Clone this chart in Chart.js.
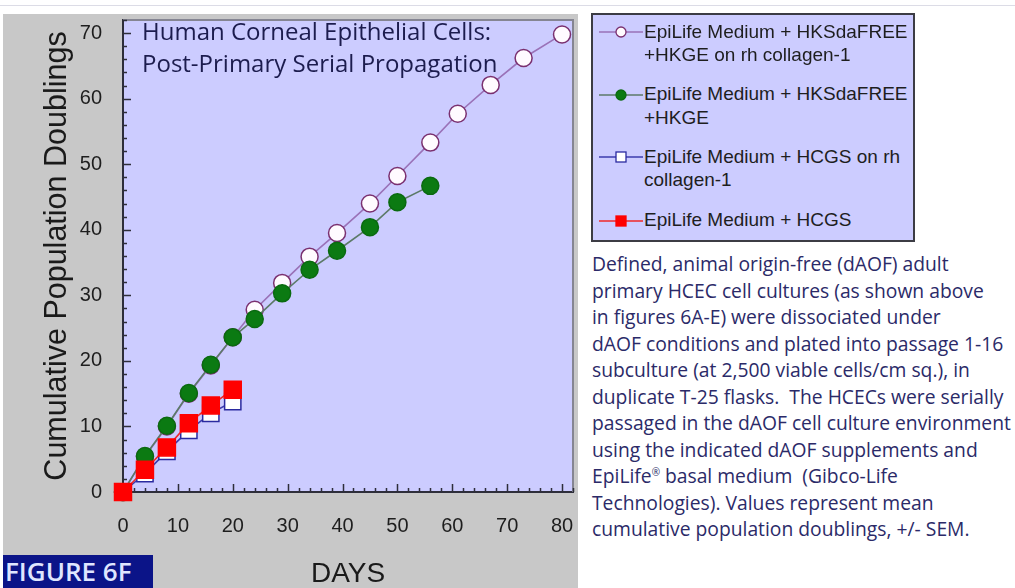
<!DOCTYPE html>
<html>
<head>
<meta charset="UTF-8">
<title>Human Corneal Epithelial Cells: Post-Primary Serial Propagation</title>
<script src="https://cdn.jsdelivr.net/npm/chart.js@4"></script>
<style>
  body {
    margin: 0;
    width: 1015px;
    height: 588px;
    position: relative;
    overflow: hidden;
    background: #ffffff;
    font-family: 'Liberation Sans', Arial, sans-serif;
  }
  .topline { position: absolute; left: 0; top: 5px; width: 1015px; height: 1px; background: #dcdce6; }
  .panel { position: absolute; left: 3px; top: 14px; width: 575px; height: 574px; background: #c8c8c8; }
  .plot-title {
    position: absolute; left: 142px; top: 15px;
    font-family: 'Open Sans', sans-serif; font-size: 24px; line-height: 32px;
    color: #1c1c4e; white-space: pre;
  }
  .figure-tag {
    position: absolute; left: 3px; top: 555px; width: 150px; height: 33px;
    background: #0b1488; color: #dfe6ff;
    font-family: 'Open Sans', sans-serif; font-size: 26px; font-weight: 600; line-height: 33px;
    padding-left: 2px; box-sizing: border-box; overflow: hidden;
  }
  .legend-box {
    position: absolute; left: 591px; top: 13px; width: 324px; height: 229px;
    background: #ccccff; border: 2px solid #3c3c44; box-sizing: border-box;
  }
  .legend-text {
    position: absolute; left: 644px;
    font-size: 19px; line-height: 23.3px; color: #1e1e1e; white-space: pre;
  }
  .legend-sym { position: absolute; left: 599px; width: 44px; height: 16px; }
  .caption {
    position: absolute; left: 592px; top: 251px;
    font-family: 'Open Sans', sans-serif; font-size: 19.3px; line-height: 26.5px;
    color: #2b2a68; white-space: pre;
  }
  .caption sup { font-size: 10px; line-height: 0; }
</style>
</head>
<body>
<div class="topline"></div>
<div class="panel"><canvas id="chart"></canvas></div>
<div class="plot-title">Human Corneal Epithelial Cells:
Post-Primary Serial Propagation</div>
<div class="figure-tag">FIGURE 6F</div>
<div class="legend-box"></div>
<div id="legend"></div>
<div class="caption">Defined, animal origin-free (dAOF) adult
primary HCEC cell cultures (as shown above
in figures 6A-E) were dissociated under
dAOF conditions and plated into passage 1-16
subculture (at 2,500 viable cells/cm sq.), in
duplicate T-25 flasks.  The HCECs were serially
passaged in the dAOF cell culture environment
using the indicated dAOF supplements and
EpiLife<sup>®</sup> basal medium  (Gibco-Life
Technologies). Values represent mean
cumulative population doublings, +/- SEM.</div>

<script>
// days in culture for each series
const hksCollagenDays = [0, 4, 8, 12, 16, 20, 24, 29, 34, 39, 45, 50, 56, 61, 67, 73, 80];
const hksDays = [0, 4, 8, 12, 16, 20, 24, 29, 34, 39, 45, 50, 56];
const hcgsDays = [0, 4, 8, 12, 16, 20];

// cumulative population doublings
const hksCollagen = [0, 5.4, 10.0, 15.0, 19.3, 23.6, 27.8, 31.9, 35.9, 39.5, 44.0, 48.2, 53.3, 57.7, 62.1, 66.2, 69.8];
const hks = [0, 5.5, 10.1, 15.1, 19.4, 23.6, 26.4, 30.3, 33.9, 36.8, 40.4, 44.2, 46.7];
const hcgsCollagen = [0, 2.8, 6.2, 9.4, 12.0, 13.8];
const hcgs = [0, 3.4, 6.8, 10.5, 13.2, 15.6];

const xTicks = [0, 10, 20, 30, 40, 50, 60, 70, 80];
const yTicks = [0, 10, 20, 30, 40, 50, 60, 70];

const seriesLabels = [
  ['EpiLife Medium + HKSdaFREE', '+HKGE on rh collagen-1'],
  ['EpiLife Medium + HKSdaFREE', '+HKGE'],
  ['EpiLife Medium + HCGS on rh', 'collagen-1'],
  ['EpiLife Medium + HCGS']
];

const styles = [
  { line: '#9a72b8', fill: '#fffbff', edge: '#7a3070', shape: 'circle', r: 8.5 },
  { line: '#5c7a68', fill: '#0b7a12', edge: '#0a6a10', shape: 'circle', r: 8.5 },
  { line: '#3c3cae', fill: '#ffffff', edge: '#2a2aa0', shape: 'rect', r: 11.5 },
  { line: '#f02828', fill: '#ff0000', edge: '#ff0000', shape: 'rect', r: 12 }
];

const seriesData = [
  hksCollagenDays.map((d, i) => ({ x: d, y: hksCollagen[i] })),
  hksDays.map((d, i) => ({ x: d, y: hks[i] })),
  hcgsDays.map((d, i) => ({ x: d, y: hcgsCollagen[i] })),
  hcgsDays.map((d, i) => ({ x: d, y: hcgs[i] }))
];
// lower order is drawn on top
const drawOrder = [3, 1, 2, 0];

const datasets = seriesData.map((data, i) => ({
  label: seriesLabels[i].join(' '),
  data: data,
  order: drawOrder[i],
  borderColor: styles[i].line,
  borderWidth: 1.6,
  pointStyle: styles[i].shape,
  pointRadius: styles[i].r,
  pointHoverRadius: styles[i].r,
  pointBackgroundColor: styles[i].fill,
  pointBorderColor: styles[i].edge,
  pointBorderWidth: 1.5,
  tension: 0,
  clip: false
}));

// lavender plot area, grey top/right frame and inward tick marks
const plotFrame = {
  id: 'plotFrame',
  beforeDraw(chart) {
    const { ctx, chartArea: a } = chart;
    ctx.save();
    ctx.fillStyle = '#ccccff';
    ctx.fillRect(a.left, a.top, a.right - a.left, a.bottom - a.top);
    ctx.restore();
  },
  beforeDatasetsDraw(chart) {
    const { ctx, chartArea: a, scales: { x, y } } = chart;
    ctx.save();
    ctx.strokeStyle = '#858592';
    ctx.lineWidth = 2;
    ctx.beginPath();
    ctx.moveTo(a.left, a.top);
    ctx.lineTo(a.right, a.top);
    ctx.lineTo(a.right, a.bottom);
    ctx.stroke();

    ctx.strokeStyle = '#2e2e3a';
    ctx.lineWidth = 1.5;
    ctx.beginPath();
    for (let v = 2; v <= x.max; v += 2) {
      const px = Math.round(x.getPixelForValue(v)) + 0.5;
      const len = v % 10 === 0 ? 8 : 4;
      ctx.moveTo(px, a.bottom);
      ctx.lineTo(px, a.bottom - len);
    }
    for (let v = 2; v <= y.max; v += 2) {
      const py = Math.round(y.getPixelForValue(v)) + 0.5;
      const len = v % 10 === 0 ? 8 : 4;
      ctx.moveTo(a.left, py);
      ctx.lineTo(a.left + len, py);
    }
    ctx.stroke();
    ctx.restore();
  }
};

// fixed axis sizes; drop the label overflow padding chart.js adds
const fixSize = (w, h) => s => {
  if (w !== null) s.width = w;
  if (h !== null) s.height = h;
  s.paddingTop = s.paddingBottom = s.paddingLeft = s.paddingRight = 0;
};

const tickFont = { family: "'Liberation Sans', Arial, sans-serif", size: 20 };

new Chart(document.getElementById('chart'), {
  type: 'line',
  data: { datasets: datasets },
  options: {
    responsive: true,
    maintainAspectRatio: false,
    animation: false,
    layout: { autoPadding: false, padding: { top: 6, right: 5, left: 0, bottom: 0 } },
    plugins: { legend: { display: false }, tooltip: { enabled: false } },
    scales: {
      x: {
        type: 'linear',
        min: 0,
        max: 82,
        afterBuildTicks: s => { s.ticks = xTicks.map(v => ({ value: v })); },
        afterFit: fixSize(null, 96),
        grid: { display: false, drawTicks: false },
        border: { display: true, color: '#2e2e3a', width: 2 },
        ticks: { font: tickFont, color: '#1e1e1e', padding: 22, maxRotation: 0 },
        title: {
          display: true, text: 'DAYS', color: '#1a1a1a',
          font: { family: "'Liberation Sans', Arial, sans-serif", size: 28, lineHeight: 1 },
          padding: { top: 0, bottom: 0 }
        }
      },
      y: {
        type: 'linear',
        min: 0,
        max: 72,
        afterBuildTicks: s => { s.ticks = yTicks.map(v => ({ value: v })); },
        afterFit: fixSize(120, null),
        grid: { display: false, drawTicks: false },
        border: { display: true, color: '#2e2e3a', width: 2 },
        ticks: { font: tickFont, color: '#1e1e1e', padding: 21 },
        title: {
          display: true, text: 'Cumulative Population Doublings', color: '#1a1a1a',
          font: { family: "'Liberation Sans', Arial, sans-serif", size: 30.5, lineHeight: 1 },
          padding: { top: 39, bottom: 0 }
        }
      }
    }
  },
  plugins: [plotFrame]
});

// legend built from the same series styles
const legendBaselines = [38.3, 100.7, 163.3, 226.7];
const legendEl = document.getElementById('legend');
seriesLabels.forEach((lines, i) => {
  const st = styles[i];
  const base = legendBaselines[i];
  const sym = st.shape === 'circle'
    ? `<circle cx="22" cy="8" r="5" fill="${st.fill}" stroke="${st.edge}" stroke-width="1.3"/>`
    : `<rect x="17" y="3" width="10" height="10" fill="${st.fill}" stroke="${st.edge}" stroke-width="1.3"/>`;
  legendEl.insertAdjacentHTML('beforeend',
    `<svg class="legend-sym" style="top:${base - 14}px" viewBox="0 0 44 16">
       <line x1="0" y1="8" x2="44" y2="8" stroke="${st.line}" stroke-width="1.6"/>${sym}</svg>
     <div class="legend-text" style="top:${base - 18.3}px">${lines.join('\n')}</div>`);
});
</script>
</body>
</html>
